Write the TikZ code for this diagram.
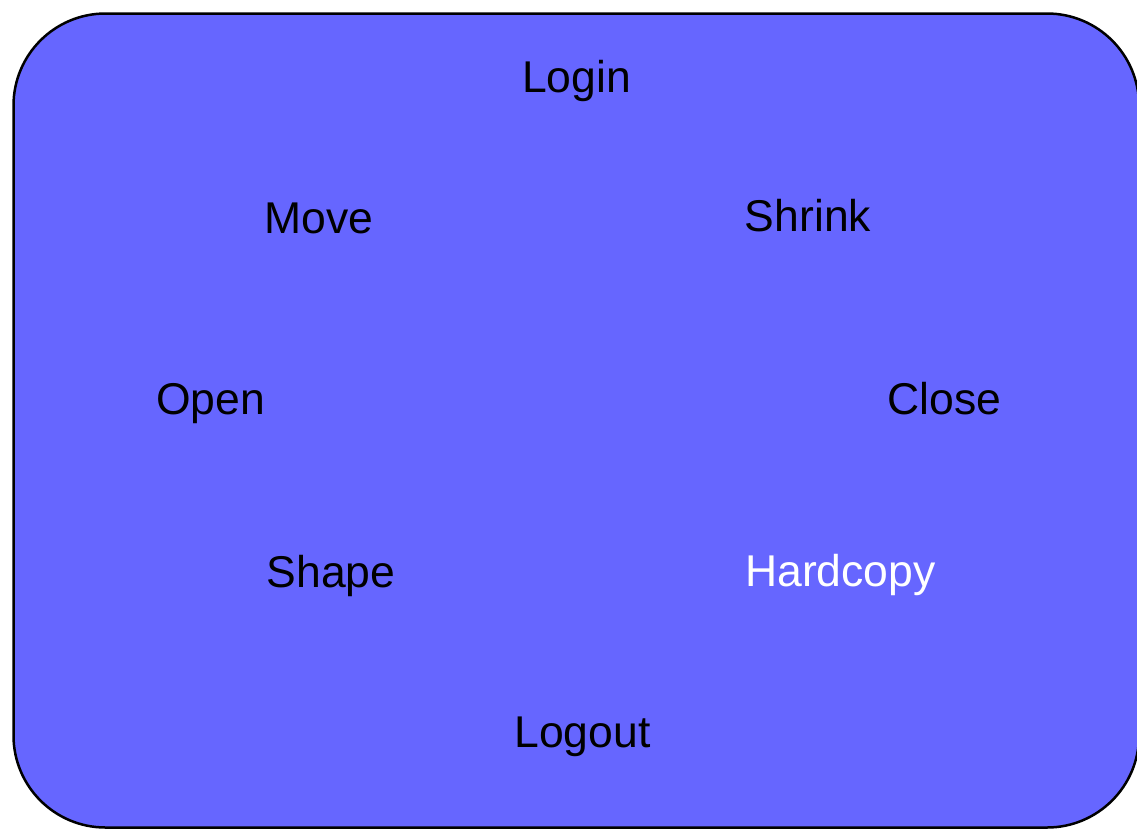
\documentclass[tikz,border=0pt]{standalone}
\usepackage{fontspec}
\setmainfont{Liberation Sans}
\definecolor{panelblue}{HTML}{6666FF}
\begin{document}
\begin{tikzpicture}[x=1pt,y=-1pt,
  lbl/.style={anchor=base,inner sep=0pt,font=\fontsize{44.5}{54}\selectfont,text=black},
  whitelbl/.style={lbl,text=white}]
\useasboundingbox (0,0) rectangle (1137,828);
\begin{scope}
\clip (0,0) rectangle (1137,828);
\draw[line width=2.5pt,fill=panelblue,rounded corners=92pt] (13.5,13.5) rectangle (1139,827.5);
\end{scope}
\node[lbl] (login) at (576.5,92) {Login};
\node[lbl] (move) at (319,233) {Move};
\node[lbl] (shrink) at (808,231) {Shrink};
\node[lbl] (open) at (210.5,414) {Open};
\node[lbl] (close) at (944.5,414) {Close};
\node[lbl] (shape) at (331,587) {Shape};
\node[whitelbl] (hardcopy) at (840.5,586) {Hardcopy};
\node[lbl] (logout) at (582.5,747) {Logout};
\end{tikzpicture}
\end{document}
